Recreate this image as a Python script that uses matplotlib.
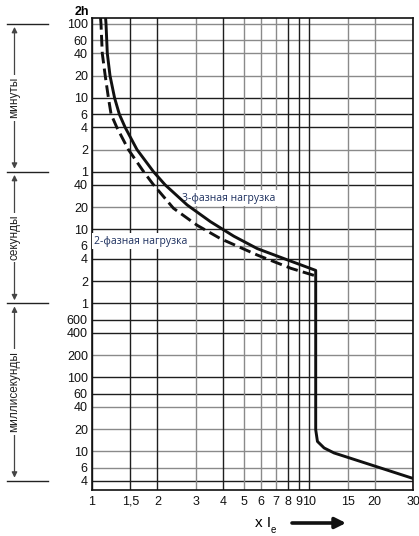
import numpy as np
import matplotlib
matplotlib.use("Agg")
from matplotlib import pyplot as plt
from matplotlib import transforms

# multiples of rated current
x_3ph = [1.155, 1.16, 1.176, 1.21, 1.27, 1.336, 1.42, 1.61, 1.92, 2.17, 2.74, 3.51, 4.49, 5.76,
         8.22, 10.7, 10.7, 10.9, 11.7, 13.0, 15.0, 30.0]
t_3ph = [7200, 6000, 2400, 1200, 600, 360, 240, 120, 60, 40, 21.4, 12.7, 8.1, 5.5,
         3.72, 2.79, 0.0196, 0.0136, 0.0111, 0.0095, 0.0083, 0.0043]
x_2ph = [1.095, 1.10, 1.115, 1.15, 1.19, 1.224, 1.30, 1.47, 1.73, 1.92, 2.37, 3.04, 3.90, 5.76,
         8.22, 10.7]
t_2ph = [7200, 6000, 2400, 1200, 600, 360, 240, 120, 60, 40, 19.3, 11.4, 7.5, 4.5,
         2.98, 2.35]

# y ticks (seconds) and their labels
min_vals = [100, 60, 40, 20, 10, 6, 4, 2, 1]
sec_vals = [40, 20, 10, 6, 4, 2, 1]
ms_vals = [600, 400, 200, 100, 60, 40, 20, 10, 6, 4]
# which gridlines are dark (others grey)
min_dark = [0, 0, 0, 0, 1, 1, 1, 0, 1]
sec_dark = [1, 0, 1, 0, 1, 1, 1]
ms_dark = [1, 1, 0, 1, 1, 0, 0, 0, 0, 1]

x_ticks = [1, 1.5, 2, 3, 4, 5, 6, 7, 8, 9, 10, 15, 20, 30]
x_labels = ["1", "1,5", "2", "3", "4", "5", "6", "7", "8", "9", "10", "15", "20", "30"]
x_dark = [1, 1, 1, 0, 1, 0, 0, 0, 1, 1, 1, 0, 0, 1]

W, H = 419, 536
fig = plt.figure(figsize=(W / 100, H / 100), dpi=100)
L, R, B, T = 92, 413, 490, 18
ax = fig.add_axes([L / W, 1 - B / H, (R - L) / W, (B - T) / H])
ax.set_xscale("log")
ax.set_yscale("log")
ax.set_xlim(1, 30)
ax.set_ylim(0.003, 7200)

dark, grey = "#1e1e1e", "#8a8a8a"
y_pos = [v * 60 for v in min_vals] + list(sec_vals) + [v / 1000 for v in ms_vals]
y_lab = [str(v) for v in min_vals + sec_vals + ms_vals]
y_dark = min_dark + sec_dark + ms_dark
for y, d in zip(y_pos, y_dark):
    ax.axhline(y, color=dark if d else grey, lw=1.0, zorder=1)
for x, d in zip(x_ticks, x_dark):
    ax.axvline(x, color=dark if d else grey, lw=1.0, zorder=1)

ax.set_yticks(y_pos)
ax.set_yticklabels(y_lab)
ax.set_xticks(x_ticks)
ax.set_xticklabels(x_labels)
ax.minorticks_off()
ax.tick_params(length=0, labelsize=9, colors="#111111", pad=3)
ax.tick_params(axis="x", pad=4)
for lab in ax.get_xticklabels() + ax.get_yticklabels():
    lab.set_family("Liberation Sans")
for s in ax.spines.values():
    s.set_linewidth(1.2)
    s.set_color("#111111")

ax.plot(x_3ph, t_3ph, color="#111111", lw=2.1, zorder=4, solid_joinstyle="round")
ax.plot(x_2ph, t_2ph, color="#111111", lw=2.1, ls=(0, (4, 1.8)), zorder=4)

lblc = "#1c2f5e"
box = dict(facecolor="white", edgecolor="none", pad=1.5)
ax.text(2.6, 26.5, "3-фазная нагрузка", family="Open Sans", fontsize=7.5, color=lblc,
        va="center", ha="left", bbox=box, zorder=3)
ax.text(1.02, 6.95, "2-фазная нагрузка", family="Open Sans", fontsize=7.5, color=lblc,
        va="center", ha="left", bbox=box, zorder=3)

fig.text(89 / W, 1 - 12 / H, "2h", ha="right", va="center", fontsize=9,
         fontweight="bold", family="Liberation Sans")

# left side brackets: minutes / seconds / milliseconds
tr = transforms.blended_transform_factory(fig.transFigure, ax.transData)
edges = [6000, 60, 1, 0.004]
names = ["минуты", "секунды", "миллисекунды"]
for e in edges:
    ax.plot([7 / W, 48 / W], [e, e], transform=tr, color="#222222", lw=1.0, clip_on=False)
for i, nm in enumerate(names):
    hi, lo = edges[i], edges[i + 1]
    ax.annotate("", xy=(14.5 / W, lo * 1.1), xytext=(14.5 / W, hi / 1.1),
                xycoords=tr, textcoords=tr,
                arrowprops=dict(arrowstyle="<|-|>", color="#444444", lw=0.9,
                                mutation_scale=8, shrinkA=0, shrinkB=0))
    ax.text(14.5 / W, np.sqrt(hi * lo), nm, transform=tr, rotation=90, ha="center",
            va="center", fontsize=8.5, color="#222222", family="Liberation Sans",
            bbox=dict(facecolor="white", edgecolor="none", pad=1.5))

# x axis caption
fig.text(255 / W, 1 - 523 / H, "x I", ha="left", va="center", fontsize=11,
         family="Liberation Sans")
fig.text(271 / W, 1 - 530 / H, "e", ha="left", va="center", fontsize=7,
         family="Liberation Sans")
fig.add_artist(matplotlib.patches.FancyArrowPatch((292 / W, 1 - 523 / H), (346 / W, 1 - 523 / H),
               transform=fig.transFigure, arrowstyle="-|>", mutation_scale=16,
               lw=2.6, color="#111111", shrinkA=0, shrinkB=0))

fig.savefig("out.png", dpi=100)
